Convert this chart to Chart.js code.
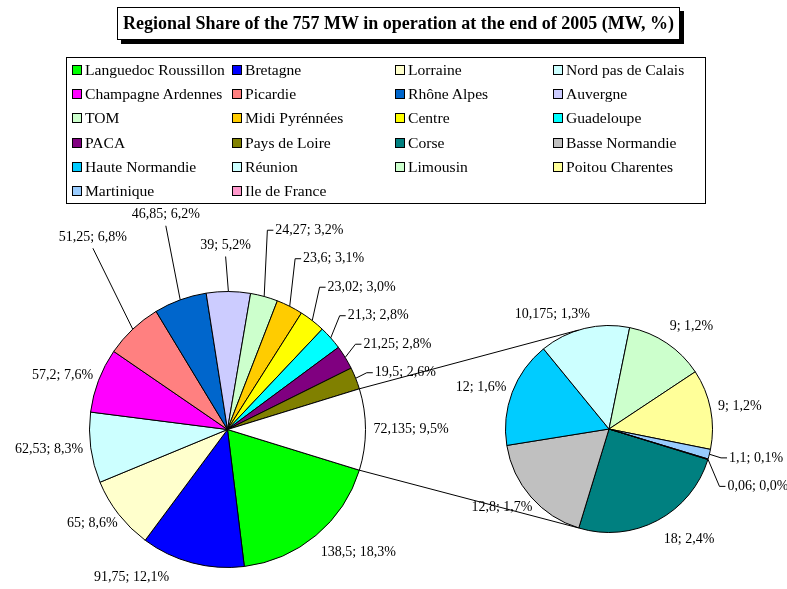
<!DOCTYPE html>
<html>
<head>
<meta charset="utf-8">
<script src="https://cdn.jsdelivr.net/npm/chart.js@4.4.1/dist/chart.umd.min.js"></script>
<style>
  body { margin: 0; background: #fff; font-family: "Liberation Serif", "Times New Roman", serif; }
  #wrap { position: relative; width: 787px; height: 589px; overflow: hidden; }
  #title {
    position: absolute; left: 117px; top: 7px; width: 563px; height: 33px;
    box-sizing: border-box; border: 1px solid #000; box-shadow: 4px 4px 0 #000;
    background: #fff; font-weight: bold; font-size: 18px; line-height: 31px; text-align: center;
    white-space: nowrap;
  }
  #legend {
    position: absolute; left: 66px; top: 57px; width: 640px; height: 147px;
    box-sizing: border-box; border: 1px solid #000; padding-left: 5px;
    display: grid; grid-template-columns: 160px 163px 158px auto; grid-auto-rows: 24.2px;
    font-size: 15.6px;
  }
  .item { display: flex; align-items: center; white-space: nowrap; }
  .sw { width: 8px; height: 8px; border: 1px solid #000; margin-right: 3px; flex: none; }
  canvas { position: absolute; left: 0; top: 0; }
</style>
</head>
<body>
<div id="wrap">
  <canvas id="mainPie" width="787" height="589"></canvas>
  <canvas id="subPie" width="787" height="589"></canvas>
  <div id="title">Regional Share of the 757 MW in operation at the end of 2005 (MW, %)</div>
  <div id="legend"></div>
</div>
<script>
// régions du grand camembert
const mainRegions = ['Languedoc Roussillon', 'Bretagne', 'Lorraine', 'Nord pas de Calais',
  'Champagne Ardennes', 'Picardie', 'Rhône Alpes', 'Auvergne', 'TOM', 'Midi Pyrénnées',
  'Centre', 'Guadeloupe', 'PACA', 'Pays de Loire'];
const mainValues = [138.5, 91.75, 65, 62.53, 57.2, 51.25, 46.85, 39, 24.27, 23.6, 23.02, 21.3, 21.25, 19.5];
const mainColors = ['#00ff00', '#0000ff', '#ffffcc', '#ccffff', '#ff00ff', '#ff8080', '#0066cc',
  '#ccccff', '#ccffcc', '#ffcc00', '#ffff00', '#00ffff', '#800080', '#808000'];

// régions du petit camembert (part "autres")
const subRegions = ['Corse', 'Basse Normandie', 'Haute Normandie', 'Réunion', 'Limousin',
  'Poitou Charentes', 'Martinique', 'Ile de France'];
const subValues = [18, 12.8, 12, 10.175, 9, 9, 1.1, 0.06];
const subColors = ['#008080', '#c0c0c0', '#00ccff', '#ccffff', '#ccffcc', '#ffff99', '#99ccff', '#ff99cc'];

const otherValue = Math.round(subValues.reduce((a, b) => a + b, 0) * 1000) / 1000;
const grandTotal = mainValues.reduce((a, b) => a + b, 0) + otherValue;
// la part "autres" est centrée sur l'horizontale à droite
const rotation = 90 + otherValue / grandTotal * 180;

// légende
const legendBox = document.getElementById('legend');
mainRegions.concat(subRegions).forEach((name, i) => {
  const color = i < mainColors.length ? mainColors[i] : subColors[i - mainColors.length];
  const div = document.createElement('div');
  div.className = 'item';
  div.innerHTML = '<span class="sw" style="background:' + color + '"></span>' + name;
  legendBox.appendChild(div);
});

function labelText(v, total) {
  return String(v).replace('.', ',') + '; ' + (v / total * 100).toFixed(1).replace('.', ',') + '%';
}

// étiquettes à l'extérieur, avec lignes de rappel quand elles sont déplacées
const pieLabels = {
  id: 'pieLabels',
  afterDatasetsDraw(chart, args, opts) {
    const ctx = chart.ctx;
    const arcs = chart.getDatasetMeta(0).data;
    const values = chart.data.datasets[0].data;
    ctx.save();
    ctx.font = opts.font;
    const items = arcs.map((arc, i) => {
      const a = (arc.startAngle + arc.endAngle) / 2;
      const cos = Math.cos(a), sin = Math.sin(a);
      const text = labelText(values[i], opts.total);
      const w = ctx.measureText(text).width;
      const h = opts.lineHeight;
      const R = arc.outerRadius + opts.gap;
      const n = opts.nudge[i] || [0, 0];
      return {
        arc, cos, sin, text, w, h,
        x: arc.x + R * cos + w / 2 * cos + n[0],
        y: arc.y + R * sin + h / 2 * sin + n[1],
        lifted: n[1] < -10, pushed: false
      };
    });

    const overlapX = (p, q) => Math.abs(p.x - q.x) < (p.w + q.w) / 2;
    [items.filter(it => it.cos > 0.05), items.filter(it => it.cos < -0.05)].forEach(side => {
      const up = side.filter(it => it.y < it.arc.y).sort((p, q) => q.y - p.y);
      const down = side.filter(it => it.y >= it.arc.y).sort((p, q) => p.y - q.y);
      for (let k = 1; k < up.length; k++) {
        const prev = up[k - 1], cur = up[k];
        if (overlapX(prev, cur) && prev.y - cur.y < opts.spacing) {
          cur.y = prev.y - opts.spacing;
          cur.pushed = prev.pushed = true;
        }
      }
      for (let k = 1; k < down.length; k++) {
        const prev = down[k - 1], cur = down[k];
        if (overlapX(prev, cur) && cur.y - prev.y < opts.spacing) {
          cur.y = prev.y + opts.spacing;
          cur.pushed = prev.pushed = true;
        }
      }
    });

    ctx.fillStyle = '#000';
    ctx.strokeStyle = '#000';
    ctx.lineWidth = 1;
    ctx.textBaseline = 'middle';
    items.forEach(it => {
      const r = it.arc.outerRadius;
      const px = it.arc.x + r * it.cos, py = it.arc.y + r * it.sin;
      if (it.pushed) {
        const s = it.cos > 0 ? 1 : -1;
        const ex = it.arc.x + (r + opts.elbow) * it.cos;
        ctx.beginPath();
        ctx.moveTo(px, py);
        ctx.lineTo(ex, it.y);
        ctx.lineTo(ex + s * opts.tick, it.y);
        ctx.stroke();
        ctx.textAlign = s > 0 ? 'left' : 'right';
        ctx.fillText(it.text, ex + s * (opts.tick + 2), it.y);
      } else {
        if (it.lifted) {
          ctx.beginPath();
          ctx.moveTo(px, py);
          ctx.lineTo(it.x, it.y + it.h / 2 + 4);
          ctx.stroke();
        }
        ctx.textAlign = 'center';
        ctx.fillText(it.text, it.x, it.y);
      }
    });
    ctx.restore();
  }
};

const labelDefaults = { total: grandTotal, font: '14px "Liberation Serif"', lineHeight: 14,
  gap: 8, spacing: 28.5, elbow: 12, tick: 6 };

const mainChart = new Chart(document.getElementById('mainPie'), {
  type: 'pie',
  data: {
    labels: mainRegions.concat(['Autres']),
    datasets: [{
      data: mainValues.concat([otherValue]),
      backgroundColor: mainColors.concat(['#ffffff']),
      borderColor: '#000',
      borderWidth: 1
    }]
  },
  options: {
    responsive: false,
    animation: false,
    events: [],
    rotation: rotation,
    layout: { padding: { left: 89, right: 421, top: 291, bottom: 21 } },
    plugins: {
      legend: { display: false },
      tooltip: { enabled: false },
      pieLabels: Object.assign({}, labelDefaults, {
        nudge: [[13, 5], [-49, 0], [0, 0], [0, 0], [0, 0], [-11, -81], [0, -71], [-3, -31]]
      })
    }
  },
  plugins: [pieLabels]
});

// lignes reliant la part "autres" au petit camembert
const connectors = {
  id: 'connectors',
  afterDatasetsDraw(chart) {
    const other = mainChart.getDatasetMeta(0).data[mainValues.length];
    const sub = chart.getDatasetMeta(0).data[0];
    const half = (other.endAngle - other.startAngle) / 2;
    const ctx = chart.ctx;
    const pt = (arc, ang) => [arc.x + arc.outerRadius * Math.cos(ang), arc.y + arc.outerRadius * Math.sin(ang)];
    const a1 = pt(other, other.startAngle), a2 = pt(other, other.endAngle);
    const b1 = pt(sub, 1.5 * Math.PI - half), b2 = pt(sub, 0.5 * Math.PI + half);
    ctx.save();
    ctx.strokeStyle = '#000';
    ctx.lineWidth = 1;
    ctx.beginPath();
    ctx.moveTo(a1[0], a1[1]);
    ctx.lineTo(b1[0], b1[1]);
    ctx.moveTo(a2[0], a2[1]);
    ctx.lineTo(b2[0], b2[1]);
    ctx.stroke();
    ctx.restore();
  }
};

new Chart(document.getElementById('subPie'), {
  type: 'pie',
  data: {
    labels: subRegions,
    datasets: [{
      data: subValues,
      backgroundColor: subColors,
      borderColor: '#000',
      borderWidth: 1
    }]
  },
  options: {
    responsive: false,
    animation: false,
    events: [],
    rotation: rotation,
    layout: { padding: { left: 505, right: 74, top: 325, bottom: 56 } },
    plugins: {
      legend: { display: false },
      tooltip: { enabled: false },
      pieLabels: Object.assign({}, labelDefaults, {
        nudge: [[16, 6], [0, 0], [0, 0], [-21, 0], [8, -4]]
      })
    }
  },
  plugins: [pieLabels, connectors]
});
</script>
</body>
</html>
